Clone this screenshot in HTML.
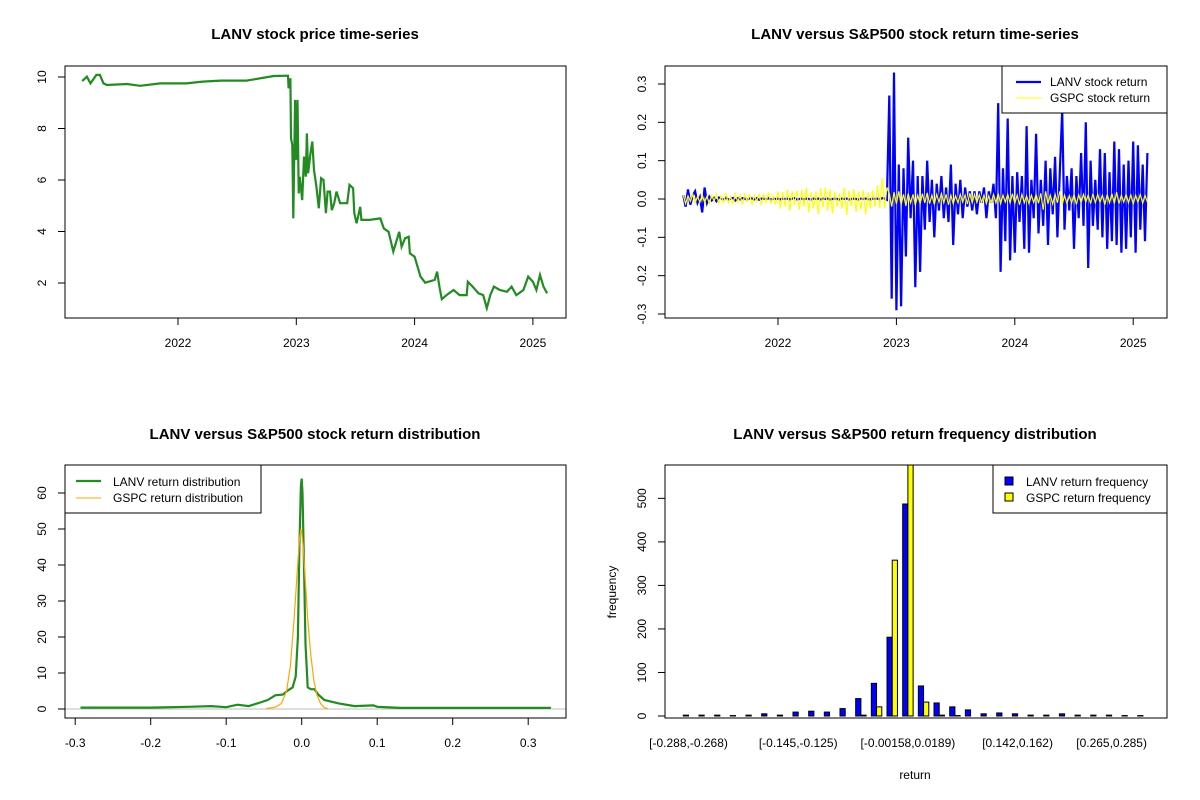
<!DOCTYPE html>
<html><head><meta charset="utf-8">
<style>
html,body{margin:0;padding:0;background:#fff;}
svg{display:block;font-family:"Liberation Sans",Arial,sans-serif;}
.t{font-weight:bold;font-size:15px;text-anchor:middle;}
.tk{font-size:12px;}
</style></head>
<body>
<svg id="c" width="1200" height="800" viewBox="0 0 1200 800" xmlns="http://www.w3.org/2000/svg"></svg>
<script>
// ---------- data ----------
const priceYears=[2021.19,2021.23,2021.26,2021.31,2021.34,2021.37,2021.40,2021.57,2021.68,2021.85,2022.07,2022.21,2022.36,2022.58,2022.81,2022.93,2022.935,2022.95,2022.955,2022.966,2022.975,2022.99,2023.00,2023.01,2023.02,2023.03,2023.05,2023.065,2023.08,2023.09,2023.10,2023.12,2023.135,2023.15,2023.17,2023.19,2023.21,2023.23,2023.25,2023.265,2023.285,2023.30,2023.32,2023.34,2023.37,2023.43,2023.45,2023.48,2023.49,2023.51,2023.54,2023.55,2023.62,2023.71,2023.74,2023.78,2023.82,2023.87,2023.89,2023.92,2023.95,2023.96,2024.00,2024.05,2024.09,2024.17,2024.19,2024.21,2024.23,2024.27,2024.33,2024.38,2024.44,2024.45,2024.49,2024.54,2024.58,2024.61,2024.64,2024.67,2024.72,2024.78,2024.82,2024.86,2024.92,2024.96,2025.00,2025.03,2025.06,2025.09,2025.12];
const priceValues=[9.84,10.01,9.75,10.08,10.08,9.75,9.69,9.73,9.66,9.75,9.75,9.82,9.86,9.86,10.04,10.05,9.56,9.95,7.62,7.36,4.51,9.11,6.78,9.11,5.48,6.13,5.22,6.91,6.13,7.81,6.26,7.04,7.49,6.39,5.74,4.90,6.07,6.00,4.71,5.55,5.55,4.83,5.10,5.55,5.10,5.10,5.81,5.68,4.71,4.32,4.96,4.45,4.45,4.51,4.12,3.99,3.22,3.99,3.41,3.74,3.80,3.15,3.02,2.25,2.01,2.12,2.44,1.86,1.37,1.53,1.73,1.53,1.53,2.05,1.86,1.60,1.53,1.02,1.53,1.86,1.73,1.66,1.86,1.53,1.73,2.25,2.05,1.73,2.31,1.86,1.60];

const retStartYear=2021.20;
const retStep=0.02;
const lanvReturns=[0.01,-0.02,0.025,-0.015,0.01,0.02,-0.01,0.005,-0.035,0.03,-0.01,
0.006,-0.004,0.003,-0.006,0.004,0.002,-0.003,0.005,-0.002,0.001,
0.003,-0.004,0.002,-0.001,0.002,0.001,-0.002,0.002,0.001,-0.001,
0.002,-0.002,0.001,0.001,-0.001,0.002,-0.001,0.001,0.000,0.001,
-0.001,0.001,0.000,0.001,-0.001,0.001,0.002,-0.001,0.000,0.001,
-0.001,0.001,0.000,-0.001,0.001,0.000,0.001,-0.001,0.001,0.000,
0.001,-0.001,0.000,0.001,0.000,-0.001,0.001,0.000,0.001,-0.001,
0.000,0.001,0.000,-0.001,0.001,0.000,0.001,0.000,-0.001,0.001,
0.000,0.001,-0.001,0.002,0.001,-0.002,
0.27,-0.26,0.33,-0.29,0.09,-0.28,0.08,-0.15,0.16,-0.05,0.1,-0.23,0.06,-0.19,
0.06,-0.08,0.1,-0.06,0.05,-0.1,0.04,-0.03,0.06,-0.05,
0.03,-0.06,0.09,-0.12,0.04,-0.04,0.05,-0.05,0.03,-0.02,
0.02,-0.03,0.02,-0.04,0.02,-0.01,0.03,-0.05,0.02,-0.01,
0.04,-0.05,0.25,-0.19,0.08,-0.11,0.21,-0.16,0.06,
-0.14,0.07,-0.06,0.06,-0.13,0.19,-0.14,0.05,-0.05,0.17,
-0.09,0.05,-0.07,0.1,-0.12,0.08,-0.04,0.11,-0.1,0.07,
0.23,-0.08,0.06,-0.03,0.08,-0.13,0.06,-0.05,0.12,-0.07,
0.2,-0.18,0.1,-0.07,0.05,-0.08,0.13,-0.1,0.12,-0.13,
0.07,-0.11,0.15,-0.12,0.13,-0.14,0.09,-0.13,0.1,-0.1,
0.15,-0.14,0.14,-0.08,0.09,-0.11,0.12];
const gspcReturns=[0.01,-0.012,0.008,-0.006,0.012,-0.01,0.006,-0.008,0.011,-0.009,
0.007,-0.012,0.009,-0.005,0.012,-0.011,0.008,-0.009,0.014,-0.01,
0.006,-0.012,0.013,-0.008,0.01,-0.015,0.012,-0.007,0.011,-0.013,
0.009,-0.006,0.014,-0.016,0.012,-0.008,0.017,-0.012,0.009,-0.014,
0.02,-0.025,0.018,-0.02,0.025,-0.03,0.02,-0.015,0.022,-0.028,
0.024,-0.02,0.03,-0.035,0.018,-0.025,0.02,-0.04,0.028,-0.022,
0.03,-0.03,0.025,-0.038,0.02,-0.02,0.015,-0.025,0.03,-0.042,
0.022,-0.018,0.026,-0.034,0.02,-0.028,0.024,-0.04,0.018,-0.025,
0.022,-0.02,0.035,-0.024,0.055,-0.025,0.03,
0.015,-0.02,0.018,-0.012,0.02,-0.015,0.012,-0.018,0.014,-0.01,
0.012,-0.016,0.01,-0.012,0.014,-0.01,0.016,-0.012,0.01,-0.014,
0.012,-0.008,0.014,-0.01,0.012,-0.015,0.01,-0.012,0.008,-0.01,
0.012,-0.008,0.01,-0.013,0.015,-0.01,0.012,-0.009,0.011,-0.008,
0.01,-0.012,0.008,-0.01,0.012,-0.01,0.015,-0.012,0.01,-0.008,
0.012,-0.01,0.014,-0.011,0.01,-0.015,0.012,-0.01,0.008,-0.012,
0.01,-0.009,0.012,-0.011,0.015,-0.028,0.02,-0.012,0.01,-0.013,
0.012,-0.01,0.02,-0.015,0.01,-0.012,0.009,-0.01,0.012,-0.014,
0.011,-0.01,0.012,-0.008,0.01,-0.012,0.014,-0.01,0.012,-0.009,
0.01,-0.015,0.012,-0.01,0.014,-0.012,0.018,-0.012,0.01,-0.008,
0.012,-0.01,0.011,-0.013,0.01,-0.009,0.012,-0.011,0.01,-0.008];

const lanvDensX=[-0.293,-0.25,-0.2,-0.15,-0.12,-0.1,-0.085,-0.07,-0.055,-0.045,-0.035,-0.025,-0.018,-0.012,-0.008,-0.005,-0.003,-0.001,0,0.001,0.003,0.005,0.008,0.012,0.017,0.022,0.03,0.04,0.05,0.07,0.095,0.1,0.13,0.2,0.33];
const lanvDensY=[0.4,0.4,0.4,0.6,0.8,0.5,1.2,0.8,1.8,2.5,3.8,4,5.2,6,9,20,45,62,64,60,40,18,6,5.5,5.5,4,2.5,2,1.5,0.8,1,0.6,0.3,0.3,0.3];
const gspcDensX=[-0.047,-0.035,-0.027,-0.02,-0.015,-0.01,-0.006,-0.003,-0.001,0,0.002,0.005,0.008,0.012,0.016,0.02,0.025,0.03,0.035];
const gspcDensY=[0.1,0.5,1.5,5,12,25,38,47,50,49,45,35,25,15,8,4,1.5,0.4,0.05];

const lanvFreq=[2,2,2,1,2,5,2,9,11,9,17,40,75,181,487,69,30,21,14,5,7,5,2,2,5,2,2,2,1,1];
const gspcFreq=[0,0,0,0,0,0,0,0,0,0,0,2,21,358,620,32,2,1,0,0,0,0,0,0,0,0,0,0,0,0];
const histLabels=["[-0.288,-0.268)","[-0.145,-0.125)","[-0.00158,0.0189)","[0.142,0.162)","[0.265,0.285)"];
const histLabelIdx=[0,7,14,21,27];

const yearTicks=[2022,2023,2024,2025];
const priceTicks=[2,4,6,8,10];
const retTicks=[-0.3,-0.2,-0.1,0,0.1,0.2,0.3];
const densXTicks=[-0.3,-0.2,-0.1,0,0.1,0.2,0.3];
const densYTicks=[0,10,20,30,40,50,60];
const freqTicks=[0,100,200,300,400,500];

// ---------- helpers ----------
const NS="http://www.w3.org/2000/svg";
const svg=document.getElementById('c');
function mk(tag,attrs,parent){const e=document.createElementNS(NS,tag);for(const k in attrs)e.setAttribute(k,attrs[k]);(parent||svg).appendChild(e);return e;}
function txt(s,x,y,cls,extra,parent){const e=mk('text',Object.assign({x:x,y:y,'class':cls},extra||{}),parent);e.textContent=s;return e;}
function fmt(v){return v===0?'0.0':(Math.round(v*10)/10).toFixed(1);}

// clip paths
const defs=mk('defs',{});
[[65,66,501,252,'c1'],[665,66,502,252,'c2'],[65,465,501,253,'c3'],[665,465,502,253,'c4']].forEach(a=>{
  const cp=mk('clipPath',{id:a[4]},defs);mk('rect',{x:a[0],y:a[1],width:a[2],height:a[3]},cp);
});

// ---------- Panel 1 ----------
const p1=mk('g',{});

const x1=y=>178+(y-2022)*118.3;
const y1=p=>283-(p-2)*25.75;
const t1=txt('LANV stock price time-series',315,39,'t',{},p1);

let pts=priceYears.map((yr,i)=>x1(yr).toFixed(1)+','+y1(priceValues[i]).toFixed(1)).join(' ');
const pl=mk('polyline',{points:pts,fill:'none',stroke:'#228B22','stroke-width':2.2,'stroke-linejoin':'miter','clip-path':'url(#c1)'},p1);

const b1=mk('rect',{x:65,y:66,width:501,height:252,fill:'none',stroke:'#000'},p1);

const xa1=mk('g',{},p1);
mk('line',{x1:x1(2022),x2:x1(2025),y1:318,y2:318,stroke:'#000'},xa1);
yearTicks.forEach(v=>{mk('line',{x1:x1(v),x2:x1(v),y1:318,y2:325,stroke:'#000'},xa1);txt(String(v),x1(v),347,'tk',{'text-anchor':'middle'},xa1);});
const ya1=mk('g',{},p1);
mk('line',{x1:65,x2:65,y1:y1(2),y2:y1(10),stroke:'#000'},ya1);
priceTicks.forEach(v=>{const y=y1(v);mk('line',{x1:58,x2:65,y1:y,y2:y,stroke:'#000'},ya1);txt(String(v),46,y,'tk',{'text-anchor':'middle',transform:`rotate(-90 46 ${y})`},ya1);});

// ---------- Panel 2 ----------
const p2=mk('g',{});

const x2=y=>778+(y-2022)*118.4;
const y2=v=>199-v*383.3;
const t2=txt('LANV versus S&P500 stock return time-series',915,39,'t',{},p2);

const lp=lanvReturns.map((v,i)=>x2(retStartYear+i*retStep).toFixed(1)+','+y2(v).toFixed(1)).join(' ');
const l2=mk('polyline',{points:lp,fill:'none',stroke:'#0000FF','stroke-width':2.2,'clip-path':'url(#c2)'},p2);

const gp=gspcReturns.map((v,i)=>x2(retStartYear+i*retStep).toFixed(1)+','+y2(v).toFixed(1)).join(' ');
const g2=mk('polyline',{points:gp,fill:'none',stroke:'#FFFF00','stroke-width':1.2,'clip-path':'url(#c2)'},p2);

const b2=mk('rect',{x:665,y:66,width:502,height:252,fill:'none',stroke:'#000'},p2);

const xa2=mk('g',{},p2);
mk('line',{x1:x2(2022),x2:x2(2025),y1:318,y2:318,stroke:'#000'},xa2);
yearTicks.forEach(v=>{mk('line',{x1:x2(v),x2:x2(v),y1:318,y2:325,stroke:'#000'},xa2);txt(String(v),x2(v),347,'tk',{'text-anchor':'middle'},xa2);});
const ya2=mk('g',{},p2);
mk('line',{x1:665,x2:665,y1:y2(-0.3),y2:y2(0.3),stroke:'#000'},ya2);
retTicks.forEach(v=>{const y=y2(v);mk('line',{x1:658,x2:665,y1:y,y2:y,stroke:'#000'},ya2);txt(fmt(v),646,y,'tk',{'text-anchor':'middle',transform:`rotate(-90 646 ${y})`},ya2);});
const lg2=mk('g',{},p2);
mk('rect',{x:1002,y:66,width:165,height:47,fill:'#fff',stroke:'#000'},lg2);
mk('line',{x1:1016,x2:1041,y1:82,y2:82,stroke:'#0000FF','stroke-width':2.2},lg2);
mk('line',{x1:1016,x2:1041,y1:98,y2:98,stroke:'#FFFF00','stroke-width':1},lg2);
txt('LANV stock return',1050,86,'tk',{},lg2);
txt('GSPC stock return',1050,102,'tk',{},lg2);

// ---------- Panel 3 ----------
const p3=mk('g',{});

const x3=v=>301.7+v*755;
const y3=d=>709-d*3.6;
const t3=txt('LANV versus S&P500 stock return distribution',315,439,'t',{},p3);

const zl=mk('line',{x1:65,x2:566,y1:y3(0),y2:y3(0),stroke:'#bebebe'},p3);

const ld=mk('polyline',{points:lanvDensX.map((v,i)=>x3(v).toFixed(1)+','+y3(lanvDensY[i]).toFixed(1)).join(' '),fill:'none',stroke:'#228B22','stroke-width':2.2,'clip-path':'url(#c3)'},p3);

const gd=mk('polyline',{points:gspcDensX.map((v,i)=>x3(v).toFixed(1)+','+y3(gspcDensY[i]).toFixed(1)).join(' '),fill:'none',stroke:'#FFA500','stroke-width':1.2,'clip-path':'url(#c3)'},p3);

const b3=mk('rect',{x:65,y:465,width:501,height:253,fill:'none',stroke:'#000'},p3);

const xa3=mk('g',{},p3);
mk('line',{x1:x3(-0.3),x2:x3(0.3),y1:718,y2:718,stroke:'#000'},xa3);
densXTicks.forEach(v=>{mk('line',{x1:x3(v),x2:x3(v),y1:718,y2:725,stroke:'#000'},xa3);txt(fmt(v),x3(v),747,'tk',{'text-anchor':'middle'},xa3);});
const ya3=mk('g',{},p3);
mk('line',{x1:65,x2:65,y1:y3(0),y2:y3(60),stroke:'#000'},ya3);
densYTicks.forEach(v=>{const y=y3(v);mk('line',{x1:58,x2:65,y1:y,y2:y,stroke:'#000'},ya3);txt(String(v),46,y,'tk',{'text-anchor':'middle',transform:`rotate(-90 46 ${y})`},ya3);});
const lg3=mk('g',{},p3);
mk('rect',{x:65,y:465,width:196,height:48,fill:'#fff',stroke:'#000'},lg3);
mk('line',{x1:76,x2:101,y1:481,y2:481,stroke:'#228B22','stroke-width':2.2},lg3);
mk('line',{x1:76,x2:101,y1:498,y2:498,stroke:'#FFA500','stroke-width':1},lg3);
txt('LANV return distribution',113,486,'tk',{},lg3);
txt('GSPC return distribution',113,502,'tk',{},lg3);

// ---------- Panel 4 ----------
const p4=mk('g',{});

const xb=k=>683.3+k*15.67;
const bw=5.22;
const y4=v=>716-v*0.4353;
const t4=txt('LANV versus S&P500 return frequency distribution',915,439,'t',{},p4);

const bars=mk('g',{'clip-path':'url(#c4)'},p4);

lanvFreq.forEach((v,k)=>{
  const r=mk('rect',{x:xb(k),y:y4(v),width:bw,height:Math.max(0,y4(0)-y4(v)),fill:'#0000FF',stroke:'#000','stroke-width':1},bars);
  
  
});
gspcFreq.forEach((v,k)=>{
  const r=mk('rect',{x:xb(k)+bw,y:y4(v),width:bw,height:Math.max(0,y4(0)-y4(v)),fill:'#FFFF00',stroke:'#000','stroke-width':1},bars);
  
  
});
const b4=mk('rect',{x:665,y:465,width:502,height:253,fill:'none',stroke:'#000'},p4);

const xa4=mk('g',{},p4);
histLabelIdx.forEach((k,i)=>txt(histLabels[i],xb(k)+bw,747,'tk',{'text-anchor':'middle'},xa4));
const ya4=mk('g',{},p4);
mk('line',{x1:665,x2:665,y1:y4(0),y2:y4(500),stroke:'#000'},ya4);
freqTicks.forEach(v=>{const y=y4(v);mk('line',{x1:658,x2:665,y1:y,y2:y,stroke:'#000'},ya4);txt(String(v),646,y,'tk',{'text-anchor':'middle',transform:`rotate(-90 646 ${y})`},ya4);});
const xt=txt('return',915,779,'tk',{'text-anchor':'middle'},p4);

const yt=txt('frequency',616,592,'tk',{'text-anchor':'middle',transform:'rotate(-90 616 592)'},p4);

const lg4=mk('g',{},p4);
mk('rect',{x:993,y:465,width:174,height:48,fill:'#fff',stroke:'#000'},lg4);
mk('rect',{x:1005,y:477,width:8,height:8,fill:'#0000FF',stroke:'#000'},lg4);
mk('rect',{x:1005,y:493,width:8,height:8,fill:'#FFFF00',stroke:'#000'},lg4);
txt('LANV return frequency',1026,486,'tk',{},lg4);
txt('GSPC return frequency',1026,502,'tk',{},lg4);
</script>
</body></html>
